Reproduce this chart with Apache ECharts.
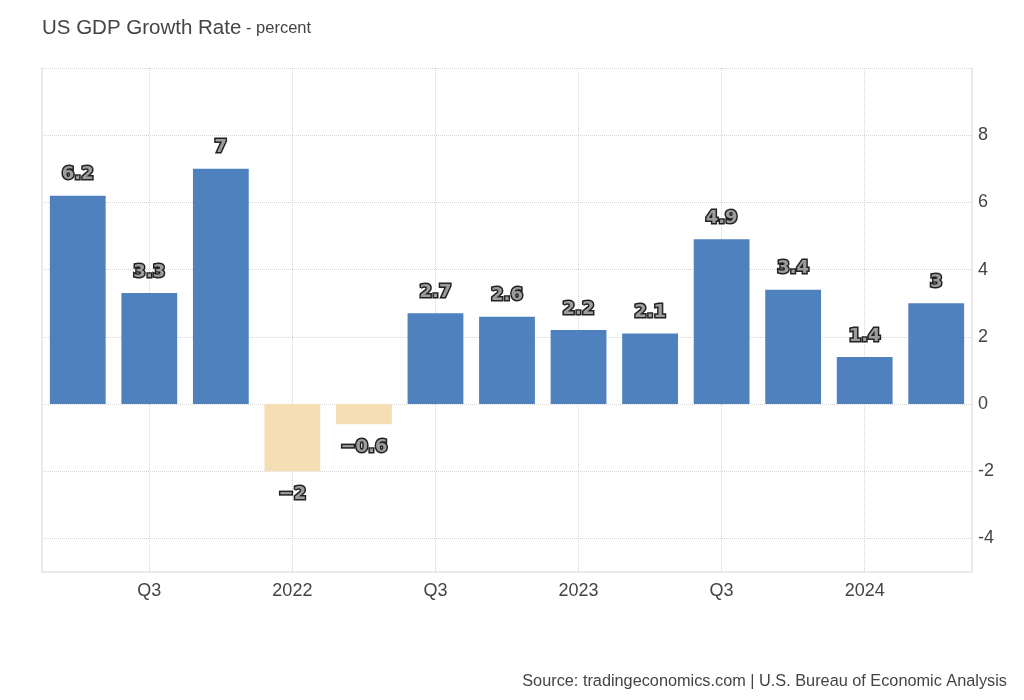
<!DOCTYPE html>
<html>
<head>
<meta charset="utf-8">
<script src="https://cdn.jsdelivr.net/npm/echarts@6/dist/echarts.min.js"></script>
<style>html,body{margin:0;padding:0;background:#fff;}#c{width:1024px;height:700px;}</style>
</head>
<body>
<div id="c"></div>
<script>
const categories = ['2021Q2','2021Q3','2021Q4','2022Q1','2022Q2','2022Q3','2022Q4','2023Q1','2023Q2','2023Q3','2023Q4','2024Q1','2024Q2'];
const gdpGrowth = [6.2, 3.3, 7, -2, -0.6, 2.7, 2.6, 2.2, 2.1, 4.9, 3.4, 1.4, 3];
const xTickLabels = ['', 'Q3', '', '2022', '', 'Q3', '', '2023', '', 'Q3', '', '2024', ''];
const yMin = -5, yMax = 10;

const chart = echarts.init(document.getElementById('c'));
const showIdx = (i) => xTickLabels[i] !== '';
chart.setOption({
  animation: false,
  backgroundColor: '#fff',
  title: [{
    text: '{a|US GDP Growth Rate}{b| - percent}',
    left: 37, top: 13,
    textStyle: { fontWeight: 'normal', rich: {
      a: { fontFamily: 'Liberation Sans', fontSize: 20.5, fontWeight: 'normal', color: '#444' },
      b: { fontFamily: 'Liberation Sans', fontSize: 16.5, fontWeight: 'normal', color: '#444' }
    } }
  }, {
    text: 'Source: tradingeconomics.com | U.S. Bureau of Economic Analysis',
    right: 12, top: 669,
    textStyle: { fontFamily: 'Liberation Sans', fontSize: 16.3, fontWeight: 'normal', color: '#444' }
  }],
  grid: { left: 42, right: 52, top: 68, bottom: 128, containLabel: false },
  xAxis: {
    type: 'category',
    data: categories,
    axisLine: { onZero: false, lineStyle: { color: '#e3e3e3', width: 1.5 } },
    axisTick: { show: false },
    axisLabel: {
      interval: (i) => showIdx(i),
      formatter: (v, i) => xTickLabels[i],
      fontFamily: 'Liberation Sans', fontSize: 18, color: '#444', margin: 10
    },
    splitLine: {
      show: true, alignWithLabel: true,
      interval: (i) => showIdx(i),
      lineStyle: { type: 'dotted', color: '#d4d4d4' }
    }
  },
  yAxis: [{
    type: 'value', position: 'right', min: yMin, max: yMax, interval: 1,
    axisLine: { show: true, lineStyle: { color: '#e3e3e3', width: 1.5 } },
    axisTick: { show: false },
    axisLabel: {
      formatter: (v) => (v % 2 === 0 && v !== yMax) ? String(v) : '',
      fontFamily: 'Liberation Sans', fontSize: 18, color: '#444', margin: 6
    },
    splitLine: { show: true, lineStyle: { type: 'dotted', color: ['rgba(0,0,0,0)', '#d4d4d4'] } }
  }, {
    type: 'value', position: 'left', min: yMin, max: yMax, interval: 1,
    axisLine: { show: true, lineStyle: { color: '#e3e3e3', width: 1.5 } },
    axisTick: { show: false }, axisLabel: { show: false }, splitLine: { show: false }
  }],
  series: [{
    type: 'bar',
    data: gdpGrowth.map(v => ({
      value: v,
      itemStyle: { color: v < 0 ? '#f5deb3' : '#4e81bd' },
      label: { position: v < 0 ? 'bottom' : 'top', distance: v < 0 ? 14 : 12 }
    })),
    barCategoryGap: '22%',
    label: {
      show: true, distance: 12,
      fontFamily: 'DejaVu Sans', fontWeight: 'bold', fontSize: 18,
      color: '#9c9c9c', textBorderColor: '#222', textBorderWidth: 3,
      formatter: (p) => String(p.value).replace('-', '\u2212')
    }
  }]
});
</script>
</body>
</html>
